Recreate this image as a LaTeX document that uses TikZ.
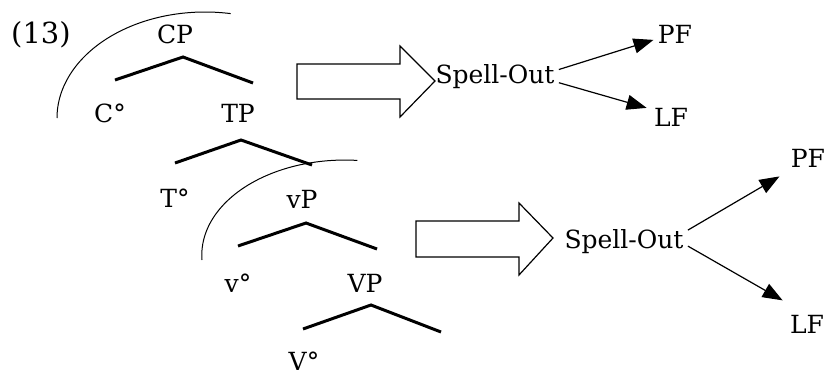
\documentclass[tikz,border=0pt]{standalone}
\usepackage{fontspec}
\setmainfont{DejaVu Serif}
\usepackage{tikz}
\usetikzlibrary{arrows.meta}

\begin{document}
\begin{tikzpicture}[x=0.5pt, y=-0.5pt,
  every node/.style = {font=\fontsize{12.5}{15}\selectfont, inner sep=2pt},
  branch/.style = {line width=1.5pt},
  phase/.style = {line width=0.5pt},
  flow/.style = {line width=0.6pt, -{Triangle[length=10pt, width=7.5pt]}},
  bigarrow/.style = {line width=0.6pt, fill=white}]

\useasboundingbox (0,0) rectangle (825,376);

% tree
\node[anchor=base, font=\fontsize{14.5}{17}\selectfont] (ex) at (41,43) {(13)};
\node[anchor=base] (CP) at (175,43) {CP};
\node[anchor=base] (Cdeg) at (110,122) {C°};
\node[anchor=base] (TP) at (238,122) {TP};
\node[anchor=base] (Tdeg) at (175,207) {T°};
\node[anchor=base] (vP) at (302,208) {vP};
\node[anchor=base] (vdeg) at (238,292) {v°};
\node[anchor=base] (VP) at (365,292) {VP};
\node[anchor=base] (Vdeg) at (304,370) {V°};

\draw[branch] (115,80) -- (183,57) -- (253,83);
\draw[branch] (175,163) -- (241,140) -- (312,165);
\draw[branch] (238,246) -- (306,223) -- (377,249);
\draw[branch] (303,329) -- (371,305) -- (441,332);

% phases
\draw[phase] (57,118) arc [x radius=148, y radius=106, start angle=180, end angle=280];
\draw[phase] (202,260) arc [x radius=143, y radius=95, start angle=177, end angle=275];

% spell-out
\node[anchor=base] (spell1) at (495,83) {Spell-Out};
\node[anchor=base] (PF1) at (675,43) {PF};
\node[anchor=base] (LF1) at (671,126) {LF};
\node[anchor=base] (spell2) at (624,248) {Spell-Out};
\node[anchor=base] (PF2) at (808,167) {PF};
\node[anchor=base] (LF2) at (807,333) {LF};

\draw[bigarrow] (297,64) -- (400,64) -- (400,46) -- (435,81) -- (400,117) -- (400,99) -- (297,99) -- cycle;
\draw[bigarrow] (416,221) -- (519,221) -- (519,203) -- (553,238) -- (519,275) -- (519,257) -- (416,257) -- cycle;

\draw[flow] ([yshift=3.3pt]spell1.east) -- ([yshift=-3pt]PF1.west);
\draw[flow] ([yshift=-3.3pt]spell1.east) -- ([xshift=-1.5pt, yshift=4.5pt]LF1.west);
\draw[flow] ([yshift=5.5pt]spell2.east) -- ([xshift=-3.5pt, yshift=-2.5pt]PF2.south west);
\draw[flow] ([yshift=-2.5pt]spell2.east) -- ([xshift=-1.5pt, yshift=5pt]LF2.north west);
\end{tikzpicture}
\end{document}
